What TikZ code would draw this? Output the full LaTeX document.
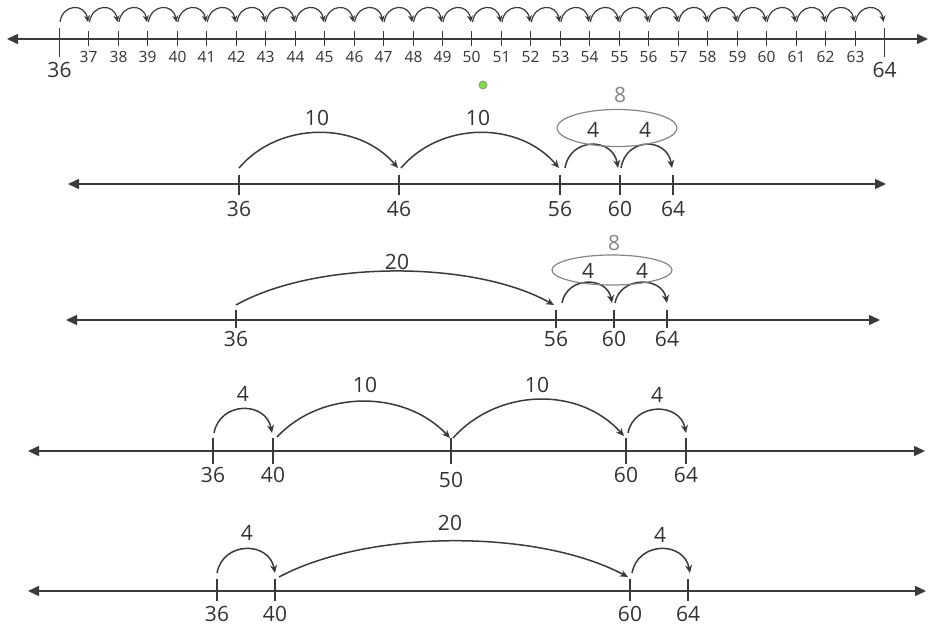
\documentclass[tikz,border=0pt]{standalone}
\usepackage{fontspec}
\setmainfont{Open Sans}
\usetikzlibrary{arrows.meta}
\definecolor{ln}{HTML}{3A3A3A}
\definecolor{tx}{HTML}{333333}
\definecolor{gr}{HTML}{858585}
\newcommand\myhop[5][]{\draw[jump,#1] (#2) .. controls +(#5,-#4) and +(-#5,-#4) .. (#3);}
\begin{document}
\begin{tikzpicture}[x=1pt,y=-1pt,
  axis/.style={ln,line width=1.5pt,{Triangle[length=11pt,width=10pt]}-{Triangle[length=11pt,width=10pt]}},
  tick/.style={ln,line width=1.2pt},
  jump/.style={ln,line width=1.5pt,-{Stealth[length=8pt,width=7pt]}},
  small/.style={jump,line width=1.2pt,-{Stealth[length=6.5pt,width=6pt]}},
  lab/.style={text=tx,font=\fontsize{21}{21}\selectfont,inner sep=0pt},
  lab1/.style={text=tx,font=\fontsize{15.5}{16}\selectfont,inner sep=0pt},
  lab1b/.style={text=tx,font=\fontsize{21}{21}\selectfont,inner sep=0pt}]
\useasboundingbox (0,0) rectangle (932,626);

% ---------- Row 1 ----------
\coordinate (r1l) at (7,39);
\coordinate (r1r) at (928,39);
\draw[axis] (r1l) -- (r1r);
\foreach \i in {0,...,28}{
  \pgfmathsetmacro\x{round(59+29.464*\i)+0.5}
  \pgfmathtruncatemacro\v{36+\i}
  \ifnum\i=0
    \draw[tick] (\x,28) -- (\x,57);
    \node[lab1b] (t\v) at (\x,70) {\v};
  \else\ifnum\i=28
    \draw[tick] (\x,28) -- (\x,57);
    \node[lab1b] (t\v) at (\x,70) {\v};
  \else
    \draw[tick] (\x,31) -- (\x,46);
    \node[lab1] (t\v) at (\x,57) {\v};
  \fi\fi
}
\foreach \i in {0,...,27}{
  \pgfmathsetmacro\x{59+29.464*\i}
  \coordinate (s\i) at (\x+1,22);
  \coordinate (e\i) at (\x+29,22);
  \myhop[small]{s\i}{e\i}{18.7}{3}
}

% green dot
\node[circle,draw=gray,fill={rgb,255:red,130;green,222;blue,70},minimum size=8pt,inner sep=0pt,line width=0.6pt] (dot) at (483,85) {};

% ---------- Row 2 ----------
\coordinate (r2l) at (68,184);
\coordinate (r2r) at (886,184);
\draw[axis] (r2l) -- (r2r);
\foreach \x/\v in {239/36,399/46,560/56,620/60,673/64}{
  \draw[tick] (\x,175) -- (\x,195);
  \node[lab] (b\v) at (\x,209) {\v};
}
\coordinate (b2s1) at (239,168); \coordinate (b2e1) at (398,168);
\coordinate (b2s2) at (401,168); \coordinate (b2e2) at (559,168);
\coordinate (b2s3) at (565,168); \coordinate (b2e3) at (618,168);
\coordinate (b2s4) at (621,168); \coordinate (b2e4) at (672,168);
\myhop{b2s1}{b2e1}{47}{40}
\myhop{b2s2}{b2e2}{47}{40}
\myhop{b2s3}{b2e3}{31}{5}
\myhop{b2s4}{b2e4}{31}{5}
\node[lab] (b2t1) at (317,118) {10};
\node[lab] (b2t2) at (478,118) {10};
\draw[gr,line width=1.2pt] (617,128) ellipse [x radius=60, y radius=18.5];
\node[lab] (b2f1) at (593,130) {4};
\node[lab] (b2f2) at (645,130) {4};
\node[lab,text=gr] (b2g) at (620,95) {8};

% ---------- Row 3 ----------
\coordinate (r3l) at (66,320);
\coordinate (r3r) at (880,320);
\draw[axis] (r3l) -- (r3r);
\foreach \x/\v in {236/36,556/56,614/60,667/64}{
  \draw[tick] (\x,310) -- (\x,328);
  \node[lab] (c\v) at (\x,339) {\v};
}
\coordinate (c3s1) at (236,305); \coordinate (c3e1) at (554,305);
\coordinate (c3s2) at (562,303); \coordinate (c3e2) at (612,303);
\coordinate (c3s3) at (615,303); \coordinate (c3e3) at (667,303);
\myhop{c3s1}{c3e1}{45}{80}
\myhop{c3s2}{c3e2}{27}{5}
\myhop{c3s3}{c3e3}{27}{5}
\node[lab] (c3t1) at (397,262) {20};
\draw[gr,line width=1.2pt] (612,270) ellipse [x radius=60, y radius=15];
\node[lab] (c3f1) at (588,271) {4};
\node[lab] (c3f2) at (642,271) {4};
\node[lab,text=gr] (c3g) at (614,243) {8};

% ---------- Row 4 ----------
\coordinate (r4l) at (28,451);
\coordinate (r4r) at (925,451);
\draw[axis] (r4l) -- (r4r);
\foreach \x/\v/\y in {213/36/475,273/40/475,451/50/480,626/60/475,686/64/475}{
  \draw[tick] (\x,438) -- (\x,464);
  \node[lab] (d\v) at (\x,\y) {\v};
}
\coordinate (d4s1) at (214,433); \coordinate (d4e1) at (272,433);
\coordinate (d4s2) at (277,437); \coordinate (d4e2) at (450,438);
\coordinate (d4s3) at (453,438); \coordinate (d4e3) at (624,436);
\coordinate (d4s4) at (628,433); \coordinate (d4e4) at (686,433);
\myhop{d4s1}{d4e1}{32}{6}
\myhop{d4s2}{d4e2}{48}{45}
\myhop{d4s3}{d4e3}{50}{45}
\myhop{d4s4}{d4e4}{31}{6}
\node[lab] (d4t1) at (243,394) {4};
\node[lab] (d4t2) at (365,385) {10};
\node[lab] (d4t3) at (537,385) {10};
\node[lab] (d4t4) at (657,395) {4};

% ---------- Row 5 ----------
\coordinate (r5l) at (28,591);
\coordinate (r5r) at (926,591);
\draw[axis] (r5l) -- (r5r);
\foreach \x/\v in {217/36,275/40,630/60,688/64}{
  \draw[tick] (\x,579) -- (\x,601);
  \node[lab] (f\v) at (\x,614) {\v};
}
\coordinate (f5s1) at (217,573); \coordinate (f5e1) at (275,573);
\coordinate (f5s2) at (279,577); \coordinate (f5e2) at (628,577);
\coordinate (f5s3) at (632,573); \coordinate (f5e3) at (690,573);
\myhop{f5s1}{f5e1}{32}{6}
\myhop{f5s2}{f5e2}{48}{90}
\myhop{f5s3}{f5e3}{32}{6}
\node[lab] (f5t1) at (247,533) {4};
\node[lab] (f5t2) at (450,523) {20};
\node[lab] (f5t3) at (660,535) {4};
\end{tikzpicture}
\end{document}
